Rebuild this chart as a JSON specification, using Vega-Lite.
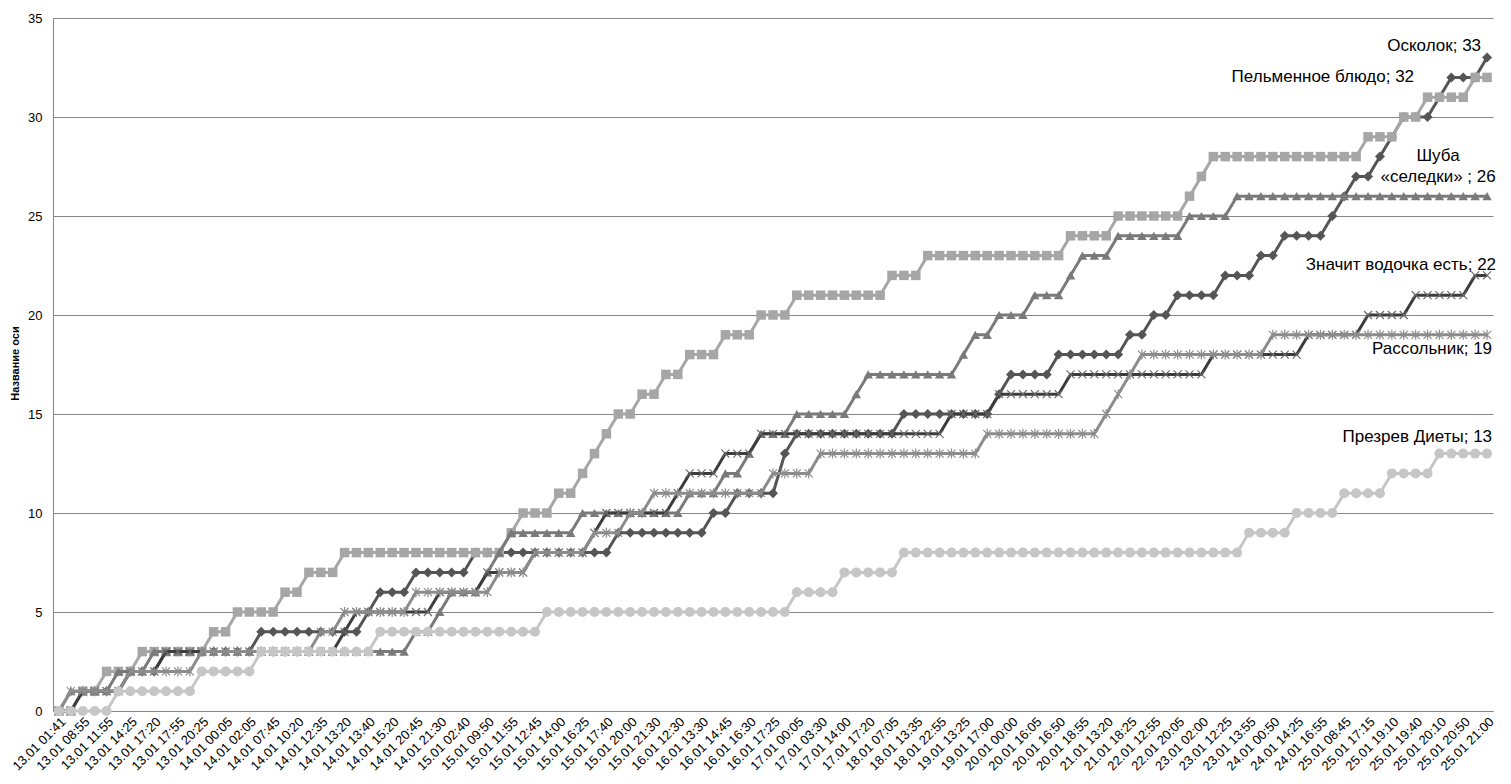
{
"$schema": "https://vega.github.io/schema/vega-lite/v6.json",
"width": 1440,
"height": 693,
"autosize": {"type": "none"},
"padding": {"left": 53, "top": 18, "right": 18, "bottom": 73},
"background": "white",
"config": {"view": {"stroke": null}, "font": "Liberation Sans"},
"datasets": {
"osk": [{"t":"13.01 01:41","v":0},{"t":"13.01 05:10","v":0},{"t":"13.01 08:55","v":1},{"t":"13.01 10:30","v":1},{"t":"13.01 11:55","v":1},{"t":"13.01 13:05","v":1},{"t":"13.01 14:25","v":2},{"t":"13.01 16:00","v":2},{"t":"13.01 17:20","v":2},{"t":"13.01 17:35","v":3},
{"t":"13.01 17:55","v":3},{"t":"13.01 19:10","v":3},{"t":"13.01 20:25","v":3},{"t":"13.01 22:15","v":3},{"t":"14.01 00:05","v":3},{"t":"14.01 01:00","v":3},{"t":"14.01 02:05","v":3},{"t":"14.01 05:00","v":4},{"t":"14.01 07:45","v":4},{"t":"14.01 09:00","v":4},
{"t":"14.01 10:20","v":4},{"t":"14.01 11:30","v":4},{"t":"14.01 12:35","v":4},{"t":"14.01 13:00","v":4},{"t":"14.01 13:20","v":4},{"t":"14.01 13:30","v":4},{"t":"14.01 13:40","v":5},{"t":"14.01 14:30","v":6},{"t":"14.01 15:20","v":6},{"t":"14.01 18:00","v":6},
{"t":"14.01 20:45","v":7},{"t":"14.01 21:05","v":7},{"t":"14.01 21:30","v":7},{"t":"14.01 23:55","v":7},{"t":"15.01 02:40","v":7},{"t":"15.01 06:10","v":8},{"t":"15.01 09:50","v":8},{"t":"15.01 11:00","v":8},{"t":"15.01 11:55","v":8},{"t":"15.01 12:20","v":8},
{"t":"15.01 12:45","v":8},{"t":"15.01 13:20","v":8},{"t":"15.01 14:00","v":8},{"t":"15.01 15:10","v":8},{"t":"15.01 16:25","v":8},{"t":"15.01 17:00","v":8},{"t":"15.01 17:40","v":8},{"t":"15.01 18:50","v":9},{"t":"15.01 20:00","v":9},{"t":"15.01 20:45","v":9},
{"t":"15.01 21:30","v":9},{"t":"16.01 05:00","v":9},{"t":"16.01 12:30","v":9},{"t":"16.01 13:00","v":9},{"t":"16.01 13:30","v":9},{"t":"16.01 14:10","v":10},{"t":"16.01 14:45","v":10},{"t":"16.01 15:40","v":11},{"t":"16.01 16:30","v":11},{"t":"16.01 17:00","v":11},
{"t":"16.01 17:25","v":11},{"t":"16.01 20:45","v":13},{"t":"17.01 00:05","v":14},{"t":"17.01 01:50","v":14},{"t":"17.01 03:30","v":14},{"t":"17.01 09:00","v":14},{"t":"17.01 14:00","v":14},{"t":"17.01 15:40","v":14},{"t":"17.01 17:20","v":14},{"t":"18.01 00:10","v":14},
{"t":"18.01 07:05","v":14},{"t":"18.01 10:20","v":15},{"t":"18.01 13:35","v":15},{"t":"18.01 18:15","v":15},{"t":"18.01 22:55","v":15},{"t":"19.01 06:10","v":15},{"t":"19.01 13:25","v":15},{"t":"19.01 15:10","v":15},{"t":"19.01 17:00","v":15},{"t":"19.01 20:30","v":16},
{"t":"20.01 00:00","v":17},{"t":"20.01 08:00","v":17},{"t":"20.01 16:05","v":17},{"t":"20.01 16:30","v":17},{"t":"20.01 16:50","v":18},{"t":"20.01 17:50","v":18},{"t":"20.01 18:55","v":18},{"t":"21.01 04:00","v":18},{"t":"21.01 13:20","v":18},{"t":"21.01 15:50","v":18},
{"t":"21.01 18:25","v":19},{"t":"22.01 03:40","v":19},{"t":"22.01 12:55","v":20},{"t":"22.01 16:30","v":20},{"t":"22.01 20:05","v":21},{"t":"22.01 23:00","v":21},{"t":"23.01 02:00","v":21},{"t":"23.01 07:10","v":21},{"t":"23.01 12:25","v":22},{"t":"23.01 13:10","v":22},
{"t":"23.01 13:55","v":22},{"t":"23.01 19:20","v":23},{"t":"24.01 00:50","v":23},{"t":"24.01 07:30","v":24},{"t":"24.01 14:25","v":24},{"t":"24.01 15:40","v":24},{"t":"24.01 16:55","v":24},{"t":"25.01 01:00","v":25},{"t":"25.01 08:45","v":26},{"t":"25.01 13:00","v":27},
{"t":"25.01 17:15","v":27},{"t":"25.01 18:10","v":28},{"t":"25.01 19:10","v":29},{"t":"25.01 19:25","v":30},{"t":"25.01 19:40","v":30},{"t":"25.01 19:55","v":30},{"t":"25.01 20:10","v":31},{"t":"25.01 20:30","v":32},{"t":"25.01 20:50","v":32},{"t":"25.01 20:55","v":32},
{"t":"25.01 21:00","v":33}],
"pel": [{"t":"13.01 01:41","v":0},{"t":"13.01 05:10","v":0},{"t":"13.01 08:55","v":1},{"t":"13.01 10:30","v":1},{"t":"13.01 11:55","v":2},{"t":"13.01 13:05","v":2},{"t":"13.01 14:25","v":2},{"t":"13.01 16:00","v":3},{"t":"13.01 17:20","v":3},{"t":"13.01 17:35","v":3},
{"t":"13.01 17:55","v":3},{"t":"13.01 19:10","v":3},{"t":"13.01 20:25","v":3},{"t":"13.01 22:15","v":4},{"t":"14.01 00:05","v":4},{"t":"14.01 01:00","v":5},{"t":"14.01 02:05","v":5},{"t":"14.01 05:00","v":5},{"t":"14.01 07:45","v":5},{"t":"14.01 09:00","v":6},
{"t":"14.01 10:20","v":6},{"t":"14.01 11:30","v":7},{"t":"14.01 12:35","v":7},{"t":"14.01 13:00","v":7},{"t":"14.01 13:20","v":8},{"t":"14.01 13:30","v":8},{"t":"14.01 13:40","v":8},{"t":"14.01 14:30","v":8},{"t":"14.01 15:20","v":8},{"t":"14.01 18:00","v":8},
{"t":"14.01 20:45","v":8},{"t":"14.01 21:05","v":8},{"t":"14.01 21:30","v":8},{"t":"14.01 23:55","v":8},{"t":"15.01 02:40","v":8},{"t":"15.01 06:10","v":8},{"t":"15.01 09:50","v":8},{"t":"15.01 11:00","v":8},{"t":"15.01 11:55","v":9},{"t":"15.01 12:20","v":10},
{"t":"15.01 12:45","v":10},{"t":"15.01 13:20","v":10},{"t":"15.01 14:00","v":11},{"t":"15.01 15:10","v":11},{"t":"15.01 16:25","v":12},{"t":"15.01 17:00","v":13},{"t":"15.01 17:40","v":14},{"t":"15.01 18:50","v":15},{"t":"15.01 20:00","v":15},{"t":"15.01 20:45","v":16},
{"t":"15.01 21:30","v":16},{"t":"16.01 05:00","v":17},{"t":"16.01 12:30","v":17},{"t":"16.01 13:00","v":18},{"t":"16.01 13:30","v":18},{"t":"16.01 14:10","v":18},{"t":"16.01 14:45","v":19},{"t":"16.01 15:40","v":19},{"t":"16.01 16:30","v":19},{"t":"16.01 17:00","v":20},
{"t":"16.01 17:25","v":20},{"t":"16.01 20:45","v":20},{"t":"17.01 00:05","v":21},{"t":"17.01 01:50","v":21},{"t":"17.01 03:30","v":21},{"t":"17.01 09:00","v":21},{"t":"17.01 14:00","v":21},{"t":"17.01 15:40","v":21},{"t":"17.01 17:20","v":21},{"t":"18.01 00:10","v":21},
{"t":"18.01 07:05","v":22},{"t":"18.01 10:20","v":22},{"t":"18.01 13:35","v":22},{"t":"18.01 18:15","v":23},{"t":"18.01 22:55","v":23},{"t":"19.01 06:10","v":23},{"t":"19.01 13:25","v":23},{"t":"19.01 15:10","v":23},{"t":"19.01 17:00","v":23},{"t":"19.01 20:30","v":23},
{"t":"20.01 00:00","v":23},{"t":"20.01 08:00","v":23},{"t":"20.01 16:05","v":23},{"t":"20.01 16:30","v":23},{"t":"20.01 16:50","v":23},{"t":"20.01 17:50","v":24},{"t":"20.01 18:55","v":24},{"t":"21.01 04:00","v":24},{"t":"21.01 13:20","v":24},{"t":"21.01 15:50","v":25},
{"t":"21.01 18:25","v":25},{"t":"22.01 03:40","v":25},{"t":"22.01 12:55","v":25},{"t":"22.01 16:30","v":25},{"t":"22.01 20:05","v":25},{"t":"22.01 23:00","v":26},{"t":"23.01 02:00","v":27},{"t":"23.01 07:10","v":28},{"t":"23.01 12:25","v":28},{"t":"23.01 13:10","v":28},
{"t":"23.01 13:55","v":28},{"t":"23.01 19:20","v":28},{"t":"24.01 00:50","v":28},{"t":"24.01 07:30","v":28},{"t":"24.01 14:25","v":28},{"t":"24.01 15:40","v":28},{"t":"24.01 16:55","v":28},{"t":"25.01 01:00","v":28},{"t":"25.01 08:45","v":28},{"t":"25.01 13:00","v":28},
{"t":"25.01 17:15","v":29},{"t":"25.01 18:10","v":29},{"t":"25.01 19:10","v":29},{"t":"25.01 19:25","v":30},{"t":"25.01 19:40","v":30},{"t":"25.01 19:55","v":31},{"t":"25.01 20:10","v":31},{"t":"25.01 20:30","v":31},{"t":"25.01 20:50","v":31},{"t":"25.01 20:55","v":32},
{"t":"25.01 21:00","v":32}],
"shu": [{"t":"13.01 01:41","v":0},{"t":"13.01 05:10","v":1},{"t":"13.01 08:55","v":1},{"t":"13.01 10:30","v":1},{"t":"13.01 11:55","v":1},{"t":"13.01 13:05","v":2},{"t":"13.01 14:25","v":2},{"t":"13.01 16:00","v":2},{"t":"13.01 17:20","v":3},{"t":"13.01 17:35","v":3},
{"t":"13.01 17:55","v":3},{"t":"13.01 19:10","v":3},{"t":"13.01 20:25","v":3},{"t":"13.01 22:15","v":3},{"t":"14.01 00:05","v":3},{"t":"14.01 01:00","v":3},{"t":"14.01 02:05","v":3},{"t":"14.01 05:00","v":3},{"t":"14.01 07:45","v":3},{"t":"14.01 09:00","v":3},
{"t":"14.01 10:20","v":3},{"t":"14.01 11:30","v":3},{"t":"14.01 12:35","v":3},{"t":"14.01 13:00","v":3},{"t":"14.01 13:20","v":3},{"t":"14.01 13:30","v":3},{"t":"14.01 13:40","v":3},{"t":"14.01 14:30","v":3},{"t":"14.01 15:20","v":3},{"t":"14.01 18:00","v":3},
{"t":"14.01 20:45","v":4},{"t":"14.01 21:05","v":4},{"t":"14.01 21:30","v":5},{"t":"14.01 23:55","v":6},{"t":"15.01 02:40","v":6},{"t":"15.01 06:10","v":6},{"t":"15.01 09:50","v":7},{"t":"15.01 11:00","v":8},{"t":"15.01 11:55","v":9},{"t":"15.01 12:20","v":9},
{"t":"15.01 12:45","v":9},{"t":"15.01 13:20","v":9},{"t":"15.01 14:00","v":9},{"t":"15.01 15:10","v":9},{"t":"15.01 16:25","v":10},{"t":"15.01 17:00","v":10},{"t":"15.01 17:40","v":10},{"t":"15.01 18:50","v":10},{"t":"15.01 20:00","v":10},{"t":"15.01 20:45","v":10},
{"t":"15.01 21:30","v":10},{"t":"16.01 05:00","v":10},{"t":"16.01 12:30","v":10},{"t":"16.01 13:00","v":11},{"t":"16.01 13:30","v":11},{"t":"16.01 14:10","v":11},{"t":"16.01 14:45","v":12},{"t":"16.01 15:40","v":12},{"t":"16.01 16:30","v":13},{"t":"16.01 17:00","v":14},
{"t":"16.01 17:25","v":14},{"t":"16.01 20:45","v":14},{"t":"17.01 00:05","v":15},{"t":"17.01 01:50","v":15},{"t":"17.01 03:30","v":15},{"t":"17.01 09:00","v":15},{"t":"17.01 14:00","v":15},{"t":"17.01 15:40","v":16},{"t":"17.01 17:20","v":17},{"t":"18.01 00:10","v":17},
{"t":"18.01 07:05","v":17},{"t":"18.01 10:20","v":17},{"t":"18.01 13:35","v":17},{"t":"18.01 18:15","v":17},{"t":"18.01 22:55","v":17},{"t":"19.01 06:10","v":17},{"t":"19.01 13:25","v":18},{"t":"19.01 15:10","v":19},{"t":"19.01 17:00","v":19},{"t":"19.01 20:30","v":20},
{"t":"20.01 00:00","v":20},{"t":"20.01 08:00","v":20},{"t":"20.01 16:05","v":21},{"t":"20.01 16:30","v":21},{"t":"20.01 16:50","v":21},{"t":"20.01 17:50","v":22},{"t":"20.01 18:55","v":23},{"t":"21.01 04:00","v":23},{"t":"21.01 13:20","v":23},{"t":"21.01 15:50","v":24},
{"t":"21.01 18:25","v":24},{"t":"22.01 03:40","v":24},{"t":"22.01 12:55","v":24},{"t":"22.01 16:30","v":24},{"t":"22.01 20:05","v":24},{"t":"22.01 23:00","v":25},{"t":"23.01 02:00","v":25},{"t":"23.01 07:10","v":25},{"t":"23.01 12:25","v":25},{"t":"23.01 13:10","v":26},
{"t":"23.01 13:55","v":26},{"t":"23.01 19:20","v":26},{"t":"24.01 00:50","v":26},{"t":"24.01 07:30","v":26},{"t":"24.01 14:25","v":26},{"t":"24.01 15:40","v":26},{"t":"24.01 16:55","v":26},{"t":"25.01 01:00","v":26},{"t":"25.01 08:45","v":26},{"t":"25.01 13:00","v":26},
{"t":"25.01 17:15","v":26},{"t":"25.01 18:10","v":26},{"t":"25.01 19:10","v":26},{"t":"25.01 19:25","v":26},{"t":"25.01 19:40","v":26},{"t":"25.01 19:55","v":26},{"t":"25.01 20:10","v":26},{"t":"25.01 20:30","v":26},{"t":"25.01 20:50","v":26},{"t":"25.01 20:55","v":26},
{"t":"25.01 21:00","v":26}],
"zna": [{"t":"13.01 01:41","v":0},{"t":"13.01 05:10","v":0},{"t":"13.01 08:55","v":1},{"t":"13.01 10:30","v":1},{"t":"13.01 11:55","v":1},{"t":"13.01 13:05","v":1},{"t":"13.01 14:25","v":2},{"t":"13.01 16:00","v":2},{"t":"13.01 17:20","v":2},{"t":"13.01 17:35","v":3},
{"t":"13.01 17:55","v":3},{"t":"13.01 19:10","v":3},{"t":"13.01 20:25","v":3},{"t":"13.01 22:15","v":3},{"t":"14.01 00:05","v":3},{"t":"14.01 01:00","v":3},{"t":"14.01 02:05","v":3},{"t":"14.01 05:00","v":3},{"t":"14.01 07:45","v":3},{"t":"14.01 09:00","v":3},
{"t":"14.01 10:20","v":3},{"t":"14.01 11:30","v":3},{"t":"14.01 12:35","v":3},{"t":"14.01 13:00","v":3},{"t":"14.01 13:20","v":4},{"t":"14.01 13:30","v":5},{"t":"14.01 13:40","v":5},{"t":"14.01 14:30","v":5},{"t":"14.01 15:20","v":5},{"t":"14.01 18:00","v":5},
{"t":"14.01 20:45","v":5},{"t":"14.01 21:05","v":5},{"t":"14.01 21:30","v":6},{"t":"14.01 23:55","v":6},{"t":"15.01 02:40","v":6},{"t":"15.01 06:10","v":6},{"t":"15.01 09:50","v":7},{"t":"15.01 11:00","v":7},{"t":"15.01 11:55","v":7},{"t":"15.01 12:20","v":7},
{"t":"15.01 12:45","v":8},{"t":"15.01 13:20","v":8},{"t":"15.01 14:00","v":8},{"t":"15.01 15:10","v":8},{"t":"15.01 16:25","v":8},{"t":"15.01 17:00","v":9},{"t":"15.01 17:40","v":10},{"t":"15.01 18:50","v":10},{"t":"15.01 20:00","v":10},{"t":"15.01 20:45","v":10},
{"t":"15.01 21:30","v":10},{"t":"16.01 05:00","v":10},{"t":"16.01 12:30","v":11},{"t":"16.01 13:00","v":12},{"t":"16.01 13:30","v":12},{"t":"16.01 14:10","v":12},{"t":"16.01 14:45","v":13},{"t":"16.01 15:40","v":13},{"t":"16.01 16:30","v":13},{"t":"16.01 17:00","v":14},
{"t":"16.01 17:25","v":14},{"t":"16.01 20:45","v":14},{"t":"17.01 00:05","v":14},{"t":"17.01 01:50","v":14},{"t":"17.01 03:30","v":14},{"t":"17.01 09:00","v":14},{"t":"17.01 14:00","v":14},{"t":"17.01 15:40","v":14},{"t":"17.01 17:20","v":14},{"t":"18.01 00:10","v":14},
{"t":"18.01 07:05","v":14},{"t":"18.01 10:20","v":14},{"t":"18.01 13:35","v":14},{"t":"18.01 18:15","v":14},{"t":"18.01 22:55","v":14},{"t":"19.01 06:10","v":15},{"t":"19.01 13:25","v":15},{"t":"19.01 15:10","v":15},{"t":"19.01 17:00","v":15},{"t":"19.01 20:30","v":16},
{"t":"20.01 00:00","v":16},{"t":"20.01 08:00","v":16},{"t":"20.01 16:05","v":16},{"t":"20.01 16:30","v":16},{"t":"20.01 16:50","v":16},{"t":"20.01 17:50","v":17},{"t":"20.01 18:55","v":17},{"t":"21.01 04:00","v":17},{"t":"21.01 13:20","v":17},{"t":"21.01 15:50","v":17},
{"t":"21.01 18:25","v":17},{"t":"22.01 03:40","v":17},{"t":"22.01 12:55","v":17},{"t":"22.01 16:30","v":17},{"t":"22.01 20:05","v":17},{"t":"22.01 23:00","v":17},{"t":"23.01 02:00","v":17},{"t":"23.01 07:10","v":18},{"t":"23.01 12:25","v":18},{"t":"23.01 13:10","v":18},
{"t":"23.01 13:55","v":18},{"t":"23.01 19:20","v":18},{"t":"24.01 00:50","v":18},{"t":"24.01 07:30","v":18},{"t":"24.01 14:25","v":18},{"t":"24.01 15:40","v":19},{"t":"24.01 16:55","v":19},{"t":"25.01 01:00","v":19},{"t":"25.01 08:45","v":19},{"t":"25.01 13:00","v":19},
{"t":"25.01 17:15","v":20},{"t":"25.01 18:10","v":20},{"t":"25.01 19:10","v":20},{"t":"25.01 19:25","v":20},{"t":"25.01 19:40","v":21},{"t":"25.01 19:55","v":21},{"t":"25.01 20:10","v":21},{"t":"25.01 20:30","v":21},{"t":"25.01 20:50","v":21},{"t":"25.01 20:55","v":22},
{"t":"25.01 21:00","v":22}],
"ras": [{"t":"13.01 01:41","v":0},{"t":"13.01 05:10","v":1},{"t":"13.01 08:55","v":1},{"t":"13.01 10:30","v":1},{"t":"13.01 11:55","v":1},{"t":"13.01 13:05","v":1},{"t":"13.01 14:25","v":2},{"t":"13.01 16:00","v":2},{"t":"13.01 17:20","v":2},{"t":"13.01 17:35","v":2},
{"t":"13.01 17:55","v":2},{"t":"13.01 19:10","v":2},{"t":"13.01 20:25","v":3},{"t":"13.01 22:15","v":3},{"t":"14.01 00:05","v":3},{"t":"14.01 01:00","v":3},{"t":"14.01 02:05","v":3},{"t":"14.01 05:00","v":3},{"t":"14.01 07:45","v":3},{"t":"14.01 09:00","v":3},
{"t":"14.01 10:20","v":3},{"t":"14.01 11:30","v":3},{"t":"14.01 12:35","v":4},{"t":"14.01 13:00","v":4},{"t":"14.01 13:20","v":5},{"t":"14.01 13:30","v":5},{"t":"14.01 13:40","v":5},{"t":"14.01 14:30","v":5},{"t":"14.01 15:20","v":5},{"t":"14.01 18:00","v":5},
{"t":"14.01 20:45","v":6},{"t":"14.01 21:05","v":6},{"t":"14.01 21:30","v":6},{"t":"14.01 23:55","v":6},{"t":"15.01 02:40","v":6},{"t":"15.01 06:10","v":6},{"t":"15.01 09:50","v":6},{"t":"15.01 11:00","v":7},{"t":"15.01 11:55","v":7},{"t":"15.01 12:20","v":7},
{"t":"15.01 12:45","v":8},{"t":"15.01 13:20","v":8},{"t":"15.01 14:00","v":8},{"t":"15.01 15:10","v":8},{"t":"15.01 16:25","v":8},{"t":"15.01 17:00","v":9},{"t":"15.01 17:40","v":9},{"t":"15.01 18:50","v":9},{"t":"15.01 20:00","v":10},{"t":"15.01 20:45","v":10},
{"t":"15.01 21:30","v":11},{"t":"16.01 05:00","v":11},{"t":"16.01 12:30","v":11},{"t":"16.01 13:00","v":11},{"t":"16.01 13:30","v":11},{"t":"16.01 14:10","v":11},{"t":"16.01 14:45","v":11},{"t":"16.01 15:40","v":11},{"t":"16.01 16:30","v":11},{"t":"16.01 17:00","v":11},
{"t":"16.01 17:25","v":12},{"t":"16.01 20:45","v":12},{"t":"17.01 00:05","v":12},{"t":"17.01 01:50","v":12},{"t":"17.01 03:30","v":13},{"t":"17.01 09:00","v":13},{"t":"17.01 14:00","v":13},{"t":"17.01 15:40","v":13},{"t":"17.01 17:20","v":13},{"t":"18.01 00:10","v":13},
{"t":"18.01 07:05","v":13},{"t":"18.01 10:20","v":13},{"t":"18.01 13:35","v":13},{"t":"18.01 18:15","v":13},{"t":"18.01 22:55","v":13},{"t":"19.01 06:10","v":13},{"t":"19.01 13:25","v":13},{"t":"19.01 15:10","v":13},{"t":"19.01 17:00","v":14},{"t":"19.01 20:30","v":14},
{"t":"20.01 00:00","v":14},{"t":"20.01 08:00","v":14},{"t":"20.01 16:05","v":14},{"t":"20.01 16:30","v":14},{"t":"20.01 16:50","v":14},{"t":"20.01 17:50","v":14},{"t":"20.01 18:55","v":14},{"t":"21.01 04:00","v":14},{"t":"21.01 13:20","v":15},{"t":"21.01 15:50","v":16},
{"t":"21.01 18:25","v":17},{"t":"22.01 03:40","v":18},{"t":"22.01 12:55","v":18},{"t":"22.01 16:30","v":18},{"t":"22.01 20:05","v":18},{"t":"22.01 23:00","v":18},{"t":"23.01 02:00","v":18},{"t":"23.01 07:10","v":18},{"t":"23.01 12:25","v":18},{"t":"23.01 13:10","v":18},
{"t":"23.01 13:55","v":18},{"t":"23.01 19:20","v":18},{"t":"24.01 00:50","v":19},{"t":"24.01 07:30","v":19},{"t":"24.01 14:25","v":19},{"t":"24.01 15:40","v":19},{"t":"24.01 16:55","v":19},{"t":"25.01 01:00","v":19},{"t":"25.01 08:45","v":19},{"t":"25.01 13:00","v":19},
{"t":"25.01 17:15","v":19},{"t":"25.01 18:10","v":19},{"t":"25.01 19:10","v":19},{"t":"25.01 19:25","v":19},{"t":"25.01 19:40","v":19},{"t":"25.01 19:55","v":19},{"t":"25.01 20:10","v":19},{"t":"25.01 20:30","v":19},{"t":"25.01 20:50","v":19},{"t":"25.01 20:55","v":19},
{"t":"25.01 21:00","v":19}],
"pre": [{"t":"13.01 01:41","v":0},{"t":"13.01 05:10","v":0},{"t":"13.01 08:55","v":0},{"t":"13.01 10:30","v":0},{"t":"13.01 11:55","v":0},{"t":"13.01 13:05","v":1},{"t":"13.01 14:25","v":1},{"t":"13.01 16:00","v":1},{"t":"13.01 17:20","v":1},{"t":"13.01 17:35","v":1},
{"t":"13.01 17:55","v":1},{"t":"13.01 19:10","v":1},{"t":"13.01 20:25","v":2},{"t":"13.01 22:15","v":2},{"t":"14.01 00:05","v":2},{"t":"14.01 01:00","v":2},{"t":"14.01 02:05","v":2},{"t":"14.01 05:00","v":3},{"t":"14.01 07:45","v":3},{"t":"14.01 09:00","v":3},
{"t":"14.01 10:20","v":3},{"t":"14.01 11:30","v":3},{"t":"14.01 12:35","v":3},{"t":"14.01 13:00","v":3},{"t":"14.01 13:20","v":3},{"t":"14.01 13:30","v":3},{"t":"14.01 13:40","v":3},{"t":"14.01 14:30","v":4},{"t":"14.01 15:20","v":4},{"t":"14.01 18:00","v":4},
{"t":"14.01 20:45","v":4},{"t":"14.01 21:05","v":4},{"t":"14.01 21:30","v":4},{"t":"14.01 23:55","v":4},{"t":"15.01 02:40","v":4},{"t":"15.01 06:10","v":4},{"t":"15.01 09:50","v":4},{"t":"15.01 11:00","v":4},{"t":"15.01 11:55","v":4},{"t":"15.01 12:20","v":4},
{"t":"15.01 12:45","v":4},{"t":"15.01 13:20","v":5},{"t":"15.01 14:00","v":5},{"t":"15.01 15:10","v":5},{"t":"15.01 16:25","v":5},{"t":"15.01 17:00","v":5},{"t":"15.01 17:40","v":5},{"t":"15.01 18:50","v":5},{"t":"15.01 20:00","v":5},{"t":"15.01 20:45","v":5},
{"t":"15.01 21:30","v":5},{"t":"16.01 05:00","v":5},{"t":"16.01 12:30","v":5},{"t":"16.01 13:00","v":5},{"t":"16.01 13:30","v":5},{"t":"16.01 14:10","v":5},{"t":"16.01 14:45","v":5},{"t":"16.01 15:40","v":5},{"t":"16.01 16:30","v":5},{"t":"16.01 17:00","v":5},
{"t":"16.01 17:25","v":5},{"t":"16.01 20:45","v":5},{"t":"17.01 00:05","v":6},{"t":"17.01 01:50","v":6},{"t":"17.01 03:30","v":6},{"t":"17.01 09:00","v":6},{"t":"17.01 14:00","v":7},{"t":"17.01 15:40","v":7},{"t":"17.01 17:20","v":7},{"t":"18.01 00:10","v":7},
{"t":"18.01 07:05","v":7},{"t":"18.01 10:20","v":8},{"t":"18.01 13:35","v":8},{"t":"18.01 18:15","v":8},{"t":"18.01 22:55","v":8},{"t":"19.01 06:10","v":8},{"t":"19.01 13:25","v":8},{"t":"19.01 15:10","v":8},{"t":"19.01 17:00","v":8},{"t":"19.01 20:30","v":8},
{"t":"20.01 00:00","v":8},{"t":"20.01 08:00","v":8},{"t":"20.01 16:05","v":8},{"t":"20.01 16:30","v":8},{"t":"20.01 16:50","v":8},{"t":"20.01 17:50","v":8},{"t":"20.01 18:55","v":8},{"t":"21.01 04:00","v":8},{"t":"21.01 13:20","v":8},{"t":"21.01 15:50","v":8},
{"t":"21.01 18:25","v":8},{"t":"22.01 03:40","v":8},{"t":"22.01 12:55","v":8},{"t":"22.01 16:30","v":8},{"t":"22.01 20:05","v":8},{"t":"22.01 23:00","v":8},{"t":"23.01 02:00","v":8},{"t":"23.01 07:10","v":8},{"t":"23.01 12:25","v":8},{"t":"23.01 13:10","v":8},
{"t":"23.01 13:55","v":9},{"t":"23.01 19:20","v":9},{"t":"24.01 00:50","v":9},{"t":"24.01 07:30","v":9},{"t":"24.01 14:25","v":10},{"t":"24.01 15:40","v":10},{"t":"24.01 16:55","v":10},{"t":"25.01 01:00","v":10},{"t":"25.01 08:45","v":11},{"t":"25.01 13:00","v":11},
{"t":"25.01 17:15","v":11},{"t":"25.01 18:10","v":11},{"t":"25.01 19:10","v":12},{"t":"25.01 19:25","v":12},{"t":"25.01 19:40","v":12},{"t":"25.01 19:55","v":12},{"t":"25.01 20:10","v":13},{"t":"25.01 20:30","v":13},{"t":"25.01 20:50","v":13},{"t":"25.01 20:55","v":13},
{"t":"25.01 21:00","v":13}]
},
"encoding": {
"x": {"field": "t", "type": "ordinal", "scale": {"type": "point", "padding": 0.5},
 "axis": {"title": null, "grid": false, "ticks": false, "domainColor": "#868686", "labelAngle": -45, "labelFontSize": 13, "labelColor": "#000000", "labelPadding": 4, "labelFont": "Liberation Sans",
  "values": ["13.01 01:41","13.01 08:55","13.01 11:55","13.01 14:25","13.01 17:20","13.01 17:55","13.01 20:25","14.01 00:05","14.01 02:05","14.01 07:45","14.01 10:20","14.01 12:35","14.01 13:20","14.01 13:40","14.01 15:20","14.01 20:45","14.01 21:30","15.01 02:40","15.01 09:50","15.01 11:55","15.01 12:45","15.01 14:00","15.01 16:25","15.01 17:40","15.01 20:00","15.01 21:30","16.01 12:30","16.01 13:30","16.01 14:45","16.01 16:30","16.01 17:25","17.01 00:05","17.01 03:30","17.01 14:00","17.01 17:20","18.01 07:05","18.01 13:35","18.01 22:55","19.01 13:25","19.01 17:00","20.01 00:00","20.01 16:05","20.01 16:50","20.01 18:55","21.01 13:20","21.01 18:25","22.01 12:55","22.01 20:05","23.01 02:00","23.01 12:25","23.01 13:55","24.01 00:50","24.01 14:25","24.01 16:55","25.01 08:45","25.01 17:15","25.01 19:10","25.01 19:40","25.01 20:10","25.01 20:50","25.01 21:00"]}},
"y": {"field": "v", "type": "quantitative", "scale": {"domain": [0, 35], "nice": false, "zero": true},
 "axis": {"values": [0,5,10,15,20,25,30,35], "grid": true, "gridColor": "#868686", "gridWidth": 1, "domainColor": "#868686", "ticks": false, "labelFontSize": 13, "labelColor": "#000000", "labelPadding": 11, "labelFont": "Liberation Sans",
  "title": "Название оси", "titleFontSize": 11, "titleFontWeight": "bold", "titleFont": "Liberation Sans", "titleColor": "#000000", "titleAngle": -90, "titleX": -38, "titleY": 345, "titleAlign": "center", "titleBaseline": "middle"}}
},
"layer": [
{"data": {"name": "osk"}, "mark": {"type": "line", "color": "#555555", "strokeWidth": 3, "strokeJoin": "round"}},
{"data": {"name": "osk"}, "mark": {"type": "point", "shape": "diamond", "filled": true, "color": "#555555", "size": 100, "opacity": 1}},
{"data": {"name": "pel"}, "mark": {"type": "line", "color": "#a6a6a6", "strokeWidth": 3, "strokeJoin": "round"}},
{"data": {"name": "pel"}, "mark": {"type": "point", "shape": "square", "filled": true, "color": "#a6a6a6", "size": 90, "opacity": 1}},
{"data": {"name": "shu"}, "mark": {"type": "line", "color": "#7a7a7a", "strokeWidth": 3, "strokeJoin": "round"}},
{"data": {"name": "shu"}, "mark": {"type": "point", "shape": "triangle-up", "filled": true, "color": "#7a7a7a", "size": 90, "opacity": 1}},
{"data": {"name": "zna"}, "mark": {"type": "line", "color": "#3c3c3c", "strokeWidth": 3, "strokeJoin": "round"}},
{"data": {"name": "zna"}, "mark": {"type": "point", "shape": "M-0.8,-0.8L0.8,0.8M-0.8,0.8L0.8,-0.8", "filled": false, "stroke": "#6a6a6a", "strokeWidth": 1.2, "size": 100, "opacity": 1}},
{"data": {"name": "ras"}, "mark": {"type": "line", "color": "#8c8c8c", "strokeWidth": 3, "strokeJoin": "round"}},
{"data": {"name": "ras"}, "mark": {"type": "point", "shape": "M-0.8,-0.8L0.8,0.8M-0.8,0.8L0.8,-0.8M0,-1L0,1", "filled": false, "stroke": "#8c8c8c", "strokeWidth": 1.2, "size": 100, "opacity": 1}},
{"data": {"name": "pre"}, "mark": {"type": "line", "color": "#c6c6c6", "strokeWidth": 3, "strokeJoin": "round"}},
{"data": {"name": "pre"}, "mark": {"type": "point", "shape": "circle", "filled": true, "color": "#c6c6c6", "size": 100, "opacity": 1}},
{"data": {"values": [{"t": "25.01 21:00", "v": 33, "label": "Осколок; 33"}]}, "mark": {"type": "text", "align": "right", "baseline": "middle", "dx": -6, "dy": -12, "fontSize": 17, "font": "Liberation Sans", "color": "#000000"}, "encoding": {"text": {"field": "label"}}},
{"data": {"values": [{"t": "25.01 21:00", "v": 32, "label": "Пельменное блюдо; 32"}]}, "mark": {"type": "text", "align": "right", "baseline": "middle", "dx": -73, "dy": 0, "fontSize": 17, "font": "Liberation Sans", "color": "#000000"}, "encoding": {"text": {"field": "label"}}},
{"data": {"values": [{"t": "25.01 21:00", "v": 26, "label": "Шуба\n«селедки» ; 26"}]}, "mark": {"type": "text", "align": "center", "baseline": "top", "lineBreak": "\n", "lineHeight": 21, "dx": -49, "dy": -48, "fontSize": 17, "font": "Liberation Sans", "color": "#000000"}, "encoding": {"text": {"field": "label"}}},
{"data": {"values": [{"t": "25.01 21:00", "v": 22, "label": "Значит водочка есть; 22"}]}, "mark": {"type": "text", "align": "right", "baseline": "middle", "dx": 9, "dy": -10, "fontSize": 17, "font": "Liberation Sans", "color": "#000000"}, "encoding": {"text": {"field": "label"}}},
{"data": {"values": [{"t": "25.01 21:00", "v": 19, "label": "Рассольник; 19"}]}, "mark": {"type": "text", "align": "right", "baseline": "middle", "dx": 5, "dy": 14, "fontSize": 17, "font": "Liberation Sans", "color": "#000000"}, "encoding": {"text": {"field": "label"}}},
{"data": {"values": [{"t": "25.01 21:00", "v": 13, "label": "Презрев Диеты; 13"}]}, "mark": {"type": "text", "align": "right", "baseline": "middle", "dx": 5, "dy": -17, "fontSize": 17, "font": "Liberation Sans", "color": "#000000"}, "encoding": {"text": {"field": "label"}}}
]
}
